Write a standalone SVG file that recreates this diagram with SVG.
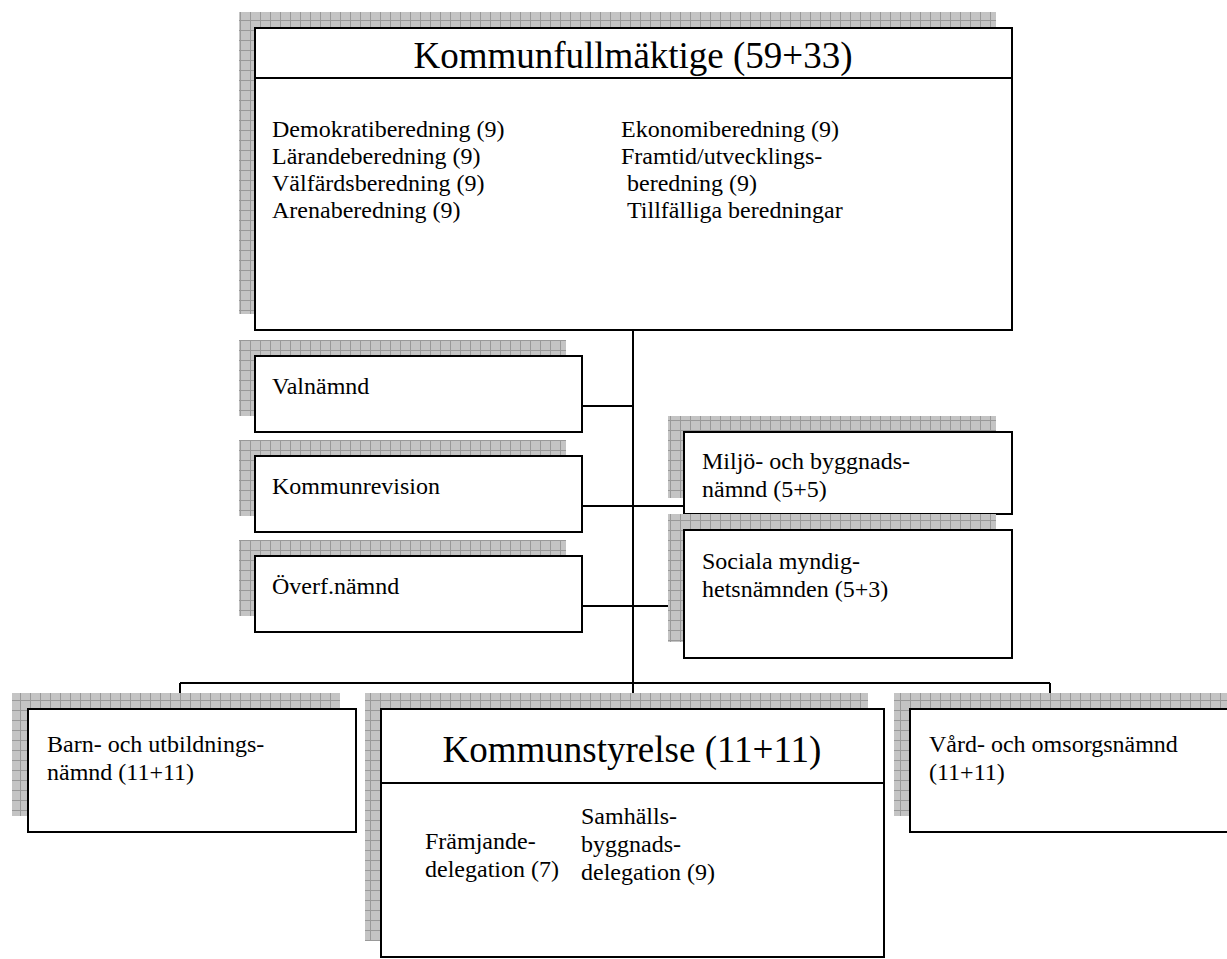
<svg xmlns="http://www.w3.org/2000/svg" width="1227" height="959" viewBox="0 0 1227 959">
<defs>
<pattern id="grid" width="10" height="10" patternUnits="userSpaceOnUse">
<rect width="10" height="10" fill="#c4c4c4"/>
<path d="M0 0.5H10M0.5 0V10" stroke="#999" stroke-width="1"/>
</pattern>
</defs>
<style>
.sh{fill:url(#grid)}
.bx{fill:#fff;stroke:#000;stroke-width:2}
.ln{stroke:#000;stroke-width:2;fill:none}
text{font-family:"Liberation Serif","Times New Roman",serif;fill:#000}
.t{font-size:24px}
.h{font-size:37px}
</style>
<rect width="1227" height="959" fill="#fff"/>
<g id="connectors">
<path class="ln" d="M633 330V709M582 406H633M582 506H684M582 606H684M180 683H1050M180 683V709M1050 683V709"/>
</g>
<g id="kommunfullmaktige">
<rect class="sh" x="239" y="12" width="757" height="302"/>
<rect class="bx" x="255" y="28" width="757" height="302"/>
<line class="ln" x1="255" y1="78" x2="1012" y2="78"/>
<text class="h" x="633" y="68" text-anchor="middle">Kommunfullmäktige (59+33)</text>
<text class="t" x="272" y="137">Demokratiberedning (9)</text>
<text class="t" x="272" y="164">Lärandeberedning (9)</text>
<text class="t" x="272" y="191">Välfärdsberedning (9)</text>
<text class="t" x="272" y="218">Arenaberedning (9)</text>
<text class="t" x="621" y="137">Ekonomiberedning (9)</text>
<text class="t" x="621" y="164">Framtid/utvecklings-</text>
<text class="t" x="627" y="191">beredning (9)</text>
<text class="t" x="627" y="218">Tillfälliga beredningar</text>
</g>
<g id="valnamnd">
<rect class="sh" x="239" y="340" width="327" height="76"/>
<rect class="bx" x="255" y="356" width="327" height="76"/>
<text class="t" x="272" y="394">Valnämnd</text>
</g>
<g id="kommunrevision">
<rect class="sh" x="239" y="440" width="327" height="76"/>
<rect class="bx" x="255" y="456" width="327" height="76"/>
<text class="t" x="272" y="494">Kommunrevision</text>
</g>
<g id="overfnamnd">
<rect class="sh" x="239" y="540" width="327" height="76"/>
<rect class="bx" x="255" y="556" width="327" height="76"/>
<text class="t" x="272" y="594">Överf.nämnd</text>
</g>
<g id="miljo">
<rect class="sh" x="668" y="416" width="328" height="82"/>
<rect class="bx" x="684" y="432" width="328" height="82"/>
<text class="t" x="702" y="469">Miljö- och byggnads-</text>
<text class="t" x="702" y="497">nämnd (5+5)</text>
</g>
<g id="sociala">
<rect class="sh" x="668" y="514" width="328" height="128"/>
<rect class="bx" x="684" y="530" width="328" height="128"/>
<text class="t" x="702" y="569">Sociala myndig-</text>
<text class="t" x="702" y="597">hetsnämnden (5+3)</text>
</g>
<g id="barn">
<rect class="sh" x="12" y="693" width="328" height="123"/>
<rect class="bx" x="28" y="709" width="328" height="123"/>
<text class="t" x="47" y="752">Barn- och utbildnings-</text>
<text class="t" x="47" y="780">nämnd (11+11)</text>
</g>
<g id="kommunstyrelse">
<rect class="sh" x="365" y="693" width="503" height="248"/>
<rect class="bx" x="381" y="709" width="503" height="248"/>
<line class="ln" x1="381" y1="783" x2="884" y2="783"/>
<text class="h" x="632" y="762" text-anchor="middle">Kommunstyrelse (11+11)</text>
<text class="t" x="425" y="849">Främjande-</text>
<text class="t" x="425" y="877">delegation (7)</text>
<text class="t" x="581" y="824">Samhälls-</text>
<text class="t" x="581" y="852">byggnads-</text>
<text class="t" x="581" y="880">delegation (9)</text>
</g>
<g id="vard">
<rect class="sh" x="894" y="693" width="340" height="123"/>
<rect class="bx" x="910" y="709" width="340" height="123"/>
<text class="t" x="929" y="752">Vård- och omsorgsnämnd</text>
<text class="t" x="929" y="780">(11+11)</text>
</g>
</svg>
